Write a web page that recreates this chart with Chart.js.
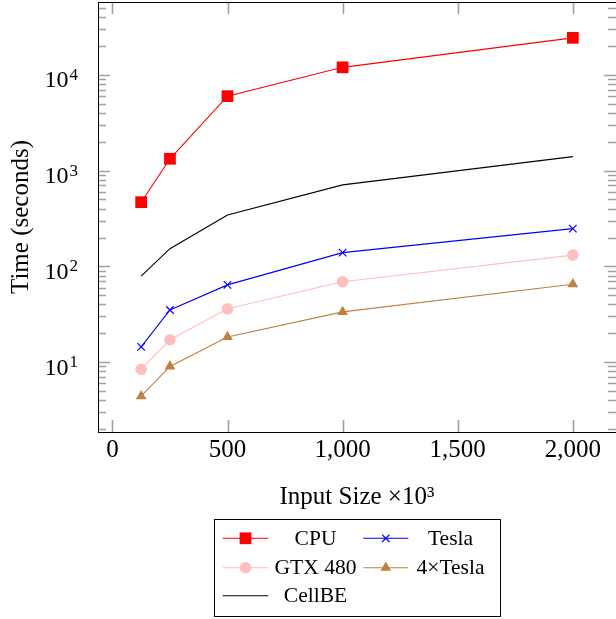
<!DOCTYPE html>
<html><head><meta charset="utf-8">
<script src="https://cdn.jsdelivr.net/npm/chart.js@4.4.0/dist/chart.umd.min.js"></script>
<style>html,body{margin:0;padding:0;background:#fff;overflow:hidden}canvas{display:block}</style>
</head><body>
<canvas id="c" width="616" height="619"></canvas>
<script>
const inputSizes = [125, 250, 500, 1000, 2000];
const cpuTimes = [468, 1330, 6000, 12000, 24400];
const teslaTimes = [14.4, 35, 64, 139, 248];
const gtx480Times = [8.4, 17.1, 36, 69, 131];
const quadTeslaTimes = [4.4, 9.0, 18.3, 33.4, 65];
const cellBETimes = [79, 153, 344, 710, 1400];
const seriesNames = ['CPU', 'Tesla', 'GTX 480', '4×Tesla', 'CellBE'];
const xTickValues = [0, 500, 1000, 1500, 2000];
const xTickLabels = ['0', '500', '1,000', '1,500', '2,000'];
const yTickValues = [10, 100, 1000, 10000];
const yTickBases = ['10', '10', '10', '10'];
const yTickExponents = ['1', '2', '3', '4'];
const xTitle = 'Input Size ×10³';
const yTitle = 'Time (seconds)';

const SERIF = "'Liberation Serif', 'DejaVu Serif', serif";

function pts(ys) { return inputSizes.map((x, i) => ({x: x, y: ys[i]})); }

// pgfplots-like enlarged limits (10%)
const allY = [].concat(cpuTimes, teslaTimes, gtx480Times, quadTeslaTimes, cellBETimes);
const lyMin = Math.log10(Math.min.apply(null, allY)), lyMax = Math.log10(Math.max.apply(null, allY));
const lyPad = 0.1 * (lyMax - lyMin);
const xMinD = Math.min.apply(null, inputSizes), xMaxD = Math.max.apply(null, inputSizes);
const xPad = 0.1 * (xMaxD - xMinD);

const styles = [
  {color: '#ff0000', pointStyle: 'rect', radius: 8.3, fill: true},
  {color: '#0000ff', pointStyle: 'crossRot', radius: 5.3, fill: false},
  {color: '#ffbfbf', pointStyle: 'circle', radius: 5.8, fill: true},
  {color: '#bf8040', pointStyle: 'triangle', radius: 6.2, fill: true},
  {color: '#000000', pointStyle: false, radius: 0, fill: false}
];
const seriesData = [cpuTimes, teslaTimes, gtx480Times, quadTeslaTimes, cellBETimes];

const datasets = seriesNames.map((name, i) => {
  const s = styles[i];
  return {
    label: name,
    data: pts(seriesData[i]),
    borderColor: s.color,
    backgroundColor: s.color,
    borderWidth: 1.1,
    pointStyle: s.pointStyle,
    pointRadius: s.radius,
    pointHoverRadius: s.radius,
    pointBorderWidth: s.fill ? 0 : 1.2,
    pointBackgroundColor: s.color,
    pointBorderColor: s.color,
    tension: 0,
    fill: false
  };
});

const frameTicks = {
  id: 'frameTicks',
  afterDatasetsDraw(chart) {
    const ctx = chart.ctx, a = chart.chartArea;
    const xs = chart.scales.x, ys = chart.scales.y;
    ctx.save();
    ctx.strokeStyle = '#a0a0a0';
    ctx.lineWidth = 1.6;
    ctx.beginPath();
    xTickValues.forEach(v => {
      const px = Math.round(xs.getPixelForValue(v)) + 0.5;
      ctx.moveTo(px, a.bottom); ctx.lineTo(px, a.bottom - 12);
      ctx.moveTo(px, a.top); ctx.lineTo(px, a.top + 12);
    });
    const e0 = Math.floor(Math.log10(ys.min)), e1 = Math.ceil(Math.log10(ys.max));
    for (let e = e0; e <= e1; e++) {
      for (let k = 1; k <= 9; k++) {
        const v = k * Math.pow(10, e);
        if (v < ys.min || v > ys.max) continue;
        const py = Math.round(ys.getPixelForValue(v)) + 0.5;
        const len = k === 1 ? 12 : 8;
        ctx.moveTo(a.left, py); ctx.lineTo(a.left + len, py);
        ctx.moveTo(a.right, py); ctx.lineTo(a.right - len, py);
      }
    }
    ctx.stroke();
    ctx.strokeStyle = '#000';
    ctx.lineWidth = 1;
    ctx.strokeRect(Math.round(a.left) + 0.5, Math.round(a.top) + 0.5, a.right - a.left, a.bottom - a.top);

    // y tick labels: 10 with raised exponent
    ctx.fillStyle = '#000';
    ctx.textBaseline = 'alphabetic';
    yTickValues.forEach((v, i) => {
      const py = ys.getPixelForValue(v);
      const right = a.left - 20;
      ctx.font = '17px ' + SERIF;
      ctx.textAlign = 'right';
      const ew = ctx.measureText(yTickExponents[i]).width;
      ctx.fillText(yTickExponents[i], right, py + 5);
      ctx.font = '24px ' + SERIF;
      ctx.fillText(yTickBases[i], right - ew - 1, py + 12.5);
    });
    ctx.restore();
  }
};

function drawMarker(ctx, ds, x, y) {
  const opts = {pointStyle: ds.pointStyle, radius: ds.pointRadius, borderWidth: ds.pointBorderWidth, rotation: 0};
  if (!ds.pointStyle) return;
  ctx.fillStyle = ds.pointBackgroundColor;
  ctx.strokeStyle = ds.pointBorderColor;
  ctx.lineWidth = ds.pointBorderWidth;
  Chart.helpers.drawPoint(ctx, opts, x, y);
}

const legendGrid = {
  id: 'legendGrid',
  afterDraw(chart) {
    const ctx = chart.ctx;
    const box = {l: 214.5, t: 519.5, r: 500.5, b: 616.5};
    const rows = [538.3, 567.7, 595.7];
    const cols = [{l0: 222.7, l1: 268.3, tx: 315.5}, {l0: 363.3, l1: 408.3, tx: 450.5}];
    ctx.save();
    ctx.fillStyle = '#fff';
    ctx.fillRect(box.l, box.t, box.r - box.l, box.b - box.t);
    ctx.strokeStyle = '#000';
    ctx.lineWidth = 1;
    ctx.strokeRect(box.l, box.t, box.r - box.l, box.b - box.t);
    chart.data.datasets.forEach((ds, i) => {
      const c = cols[i % 2], y = rows[Math.floor(i / 2)];
      ctx.strokeStyle = ds.borderColor;
      ctx.lineWidth = ds.borderWidth;
      ctx.beginPath();
      ctx.moveTo(c.l0, y); ctx.lineTo(c.l1, y);
      ctx.stroke();
      drawMarker(ctx, ds, (c.l0 + c.l1) / 2, y);
      ctx.fillStyle = '#000';
      ctx.font = "21.5px " + SERIF;
      ctx.textAlign = 'center';
      ctx.textBaseline = 'middle';
      ctx.fillText(ds.label, c.tx, y + 1);
    });
    ctx.restore();
  }
};

function noPad(s) { s.paddingTop = 0; s.paddingBottom = 0; s.paddingLeft = 0; s.paddingRight = 0; }

new Chart(document.getElementById('c'), {
  type: 'line',
  data: {datasets: datasets},
  options: {
    responsive: false,
    animation: false,
    events: [],
    layout: {autoPadding: false, padding: {top: 2, right: 0, bottom: 105, left: 0}},
    plugins: {legend: {display: false}, tooltip: {enabled: false}},
    scales: {
      x: {
        type: 'linear',
        min: xMinD - xPad,
        max: xMaxD + xPad,
        afterBuildTicks: s => { s.ticks = xTickValues.map(v => ({value: v})); },
        afterFit: s => { s.height = 82; noPad(s); },
        grid: {display: false, drawTicks: false},
        border: {display: false},
        ticks: {
          autoSkip: false, maxRotation: 0, padding: 3, color: '#000',
          font: {family: SERIF, size: 25},
          callback: (v) => { const i = xTickValues.indexOf(v); return i >= 0 ? xTickLabels[i] : ''; }
        },
        title: {display: true, text: xTitle, color: '#000', font: {family: SERIF, size: 25}, padding: {top: 0, bottom: 2}}
      },
      y: {
        type: 'logarithmic',
        min: Math.pow(10, lyMin - lyPad),
        max: Math.pow(10, lyMax + lyPad),
        afterBuildTicks: s => { s.ticks = yTickValues.map(v => ({value: v})); },
        afterFit: s => { s.width = 98; noPad(s); },
        grid: {display: false, drawTicks: false},
        border: {display: false},
        ticks: {
          display: false, autoSkip: false,
          callback: (v) => { const i = yTickValues.indexOf(v); return i >= 0 ? yTickBases[i] + yTickExponents[i] : ''; }
        },
        title: {display: true, text: yTitle, color: '#000', font: {family: SERIF, size: 25}, padding: {top: 6, bottom: 0}}
      }
    }
  },
  plugins: [frameTicks, legendGrid]
});
</script>
</body></html>
